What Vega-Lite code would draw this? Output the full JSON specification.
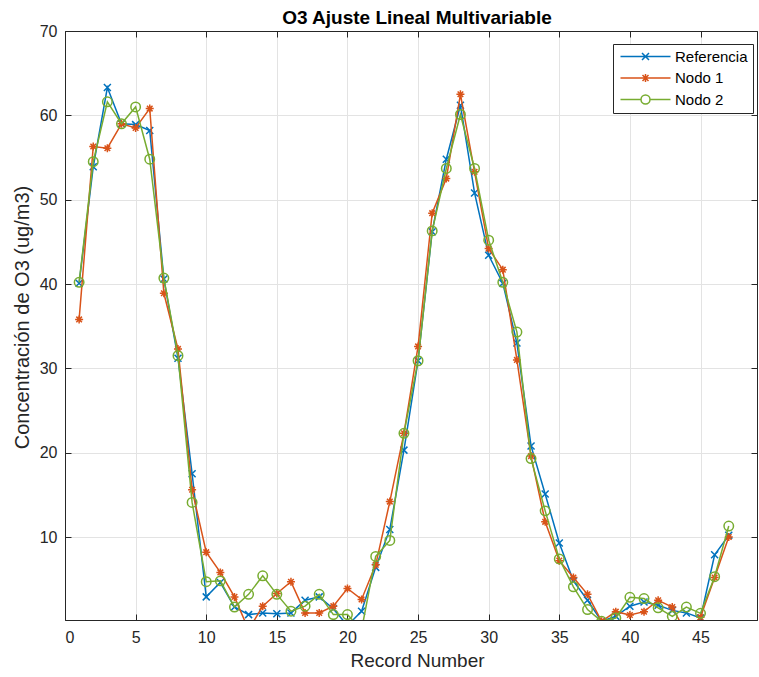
{
  "$schema": "https://vega.github.io/schema/vega-lite/v6.json",
  "width": 692,
  "height": 589,
  "autosize": "none",
  "padding": {"left": 65, "top": 31, "right": 2, "bottom": 57},
  "background": "white",
  "title": {"text": "O3 Ajuste Lineal Multivariable", "font": "Liberation Sans", "fontSize": 19, "fontWeight": "bold", "color": "#000000", "offset": -5, "anchor": "middle", "dx": 6},
  "config": {
    "font": "Liberation Sans",
    "view": {"stroke": "#262626", "strokeWidth": 1},
    "axis": {"labelFont": "Liberation Sans", "titleFont": "Liberation Sans", "labelFontSize": 16, "titleFontSize": 19, "titleFontWeight": "normal", "labelColor": "#262626", "titleColor": "#262626", "domainColor": "#262626", "tickColor": "#262626", "gridColor": "#e3e3e3", "gridWidth": 1, "tickSize": -6},
    "legend": {"title": null, "orient": "none", "legendX": 548, "legendY": 13, "labelFontSize": 15, "labelFont": "Liberation Sans", "labelColor": "#000000", "padding": 5, "strokeColor": "#262626", "fillColor": "white", "symbolSize": 100, "symbolOffset": 20, "labelOffset": 22, "rowPadding": 5.5}
  },
  "data": {"values": [
    {"x": 1, "Referencia": 40.1, "Nodo 1": 35.8, "Nodo 2": 40.2},
    {"x": 2, "Referencia": 53.9, "Nodo 1": 56.3, "Nodo 2": 54.5},
    {"x": 3, "Referencia": 63.3, "Nodo 1": 56.1, "Nodo 2": 61.6},
    {"x": 4, "Referencia": 59.0, "Nodo 1": 59.0, "Nodo 2": 59.0},
    {"x": 5, "Referencia": 58.9, "Nodo 1": 58.5, "Nodo 2": 61.0},
    {"x": 6, "Referencia": 58.2, "Nodo 1": 60.8, "Nodo 2": 54.8},
    {"x": 7, "Referencia": 40.6, "Nodo 1": 38.9, "Nodo 2": 40.7},
    {"x": 8, "Referencia": 31.2, "Nodo 1": 32.3, "Nodo 2": 31.5},
    {"x": 9, "Referencia": 17.5, "Nodo 1": 15.6, "Nodo 2": 14.1},
    {"x": 10, "Referencia": 2.9, "Nodo 1": 8.2, "Nodo 2": 4.7},
    {"x": 11, "Referencia": 4.6, "Nodo 1": 5.8, "Nodo 2": 4.8},
    {"x": 12, "Referencia": 1.7, "Nodo 1": 2.9, "Nodo 2": 1.7},
    {"x": 13, "Referencia": 0.8, "Nodo 1": -1.0, "Nodo 2": 3.2},
    {"x": 14, "Referencia": 1.0, "Nodo 1": 1.8, "Nodo 2": 5.4},
    {"x": 15, "Referencia": 0.9, "Nodo 1": 3.3, "Nodo 2": 3.2},
    {"x": 16, "Referencia": 1.0, "Nodo 1": 4.7, "Nodo 2": 1.2},
    {"x": 17, "Referencia": 2.5, "Nodo 1": 1.0, "Nodo 2": 1.8},
    {"x": 18, "Referencia": 2.9, "Nodo 1": 1.0, "Nodo 2": 3.2},
    {"x": 19, "Referencia": 1.5, "Nodo 1": 1.8, "Nodo 2": 0.8},
    {"x": 20, "Referencia": -0.5, "Nodo 1": 3.9, "Nodo 2": 0.8},
    {"x": 21, "Referencia": 1.2, "Nodo 1": 2.6, "Nodo 2": -1.0},
    {"x": 22, "Referencia": 6.4, "Nodo 1": 6.7, "Nodo 2": 7.7},
    {"x": 23, "Referencia": 10.9, "Nodo 1": 14.2, "Nodo 2": 9.6},
    {"x": 24, "Referencia": 20.3, "Nodo 1": 22.3, "Nodo 2": 22.3},
    {"x": 25, "Referencia": 30.9, "Nodo 1": 32.6, "Nodo 2": 30.9},
    {"x": 26, "Referencia": 46.2, "Nodo 1": 48.4, "Nodo 2": 46.3},
    {"x": 27, "Referencia": 54.8, "Nodo 1": 52.5, "Nodo 2": 53.7},
    {"x": 28, "Referencia": 61.2, "Nodo 1": 62.5, "Nodo 2": 60.1},
    {"x": 29, "Referencia": 50.8, "Nodo 1": 53.3, "Nodo 2": 53.7},
    {"x": 30, "Referencia": 43.4, "Nodo 1": 44.2, "Nodo 2": 45.2},
    {"x": 31, "Referencia": 40.1, "Nodo 1": 41.7, "Nodo 2": 40.2},
    {"x": 32, "Referencia": 33.0, "Nodo 1": 31.0, "Nodo 2": 34.3},
    {"x": 33, "Referencia": 20.8, "Nodo 1": 19.6, "Nodo 2": 19.3},
    {"x": 34, "Referencia": 15.1, "Nodo 1": 11.8, "Nodo 2": 13.1},
    {"x": 35, "Referencia": 9.3, "Nodo 1": 7.2, "Nodo 2": 7.4},
    {"x": 36, "Referencia": 4.8, "Nodo 1": 5.2, "Nodo 2": 4.1},
    {"x": 37, "Referencia": 2.5, "Nodo 1": 3.2, "Nodo 2": 1.4},
    {"x": 38, "Referencia": 0.0, "Nodo 1": 0.0, "Nodo 2": 0.0},
    {"x": 39, "Referencia": 0.6, "Nodo 1": 1.15, "Nodo 2": 0.4},
    {"x": 40, "Referencia": 1.8, "Nodo 1": 0.75, "Nodo 2": 2.85},
    {"x": 41, "Referencia": 2.3, "Nodo 1": 1.15, "Nodo 2": 2.7},
    {"x": 42, "Referencia": 1.9, "Nodo 1": 2.5, "Nodo 2": 1.6},
    {"x": 43, "Referencia": 1.3, "Nodo 1": 1.7, "Nodo 2": 0.6},
    {"x": 44, "Referencia": 1.0, "Nodo 1": -1.5, "Nodo 2": 1.7},
    {"x": 45, "Referencia": 0.4, "Nodo 1": 0.5, "Nodo 2": 0.95},
    {"x": 46, "Referencia": 7.9, "Nodo 1": 5.2, "Nodo 2": 5.3},
    {"x": 47, "Referencia": 10.2, "Nodo 1": 10.0, "Nodo 2": 11.3}
  ]},
  "transform": [{"fold": ["Referencia", "Nodo 1", "Nodo 2"], "as": ["serie", "valor"]}],
  "layer": [
    {
      "transform": [{"filter": "datum.serie === 'Referencia'"}],
      "mark": {"type": "line", "strokeWidth": 1.5, "clip": true},
      "encoding": {
        "x": {"field": "x", "type": "quantitative", "scale": {"domain": [0, 49], "nice": false, "zero": false}, "axis": {"values": [0, 5, 10, 15, 20, 25, 30, 35, 40, 45], "title": "Record Number", "titlePadding": 6, "labelPadding": 15, "grid": true, "titleX": 352}},
        "y": {"field": "valor", "type": "quantitative", "scale": {"domain": [0.16, 70], "nice": false, "zero": false}, "axis": {"values": [10, 20, 30, 40, 50, 60, 70], "title": "Concentración de O3 (ug/m3)", "titleFontSize": 20, "titlePadding": 7, "labelPadding": 14, "grid": true, "titleY": 286}},
        "color": {"field": "serie", "type": "nominal", "scale": {"domain": ["Referencia", "Nodo 1", "Nodo 2"], "range": ["#0072BD", "#D95319", "#77AC30"]},
          "legend": {
            "encoding": {"symbols": {
              "shape": {"value": {"signal": "datum.value === 'Referencia' ? 'M-5,0H5M-0.7,-0.7L0.7,0.7M-0.7,0.7L0.7,-0.7' : datum.value === 'Nodo 1' ? 'M-5,0H5M0,-0.8V0.8M-0.6,-0.6L0.6,0.6M-0.6,0.6L0.6,-0.6' : 'M-5,0H-0.9M0.9,0H5M0.9,0A0.9,0.9 0 1,1 -0.9,0A0.9,0.9 0 1,1 0.9,0'"}},
              "fill": {"value": "transparent"},
              "strokeWidth": {"value": 1.5},
              "opacity": {"value": 1}
            }}}
        }
      }
    },
    {
      "transform": [{"filter": "datum.serie === 'Referencia'"}],
      "mark": {"type": "point", "filled": false, "strokeWidth": 1.5, "clip": true, "opacity": 1, "shape": "M-1,-1L1,1M-1,1L1,-1", "size": 49},
      "encoding": {
        "x": {"field": "x", "type": "quantitative", "axis": {"orient": "top", "values": [0, 5, 10, 15, 20, 25, 30, 35, 40, 45], "labels": false, "title": null, "grid": false}},
        "y": {"field": "valor", "type": "quantitative", "axis": {"orient": "right", "values": [10, 20, 30, 40, 50, 60, 70], "labels": false, "title": null, "grid": false}},
        "color": {"field": "serie", "type": "nominal", "legend": null}
      }
    },
    {
      "transform": [{"filter": "datum.serie === 'Nodo 1'"}],
      "mark": {"type": "line", "strokeWidth": 1.5, "clip": true},
      "encoding": {
        "x": {"field": "x", "type": "quantitative", "axis": null},
        "y": {"field": "valor", "type": "quantitative", "axis": null},
        "color": {"field": "serie", "type": "nominal", "legend": null}
      }
    },
    {
      "transform": [{"filter": "datum.serie === 'Nodo 1'"}],
      "mark": {"type": "point", "filled": false, "strokeWidth": 1.5, "clip": true, "opacity": 1, "shape": "M-1,0H1M0,-1V1M-0.7,-0.7L0.7,0.7M-0.7,0.7L0.7,-0.7", "size": 64},
      "encoding": {
        "x": {"field": "x", "type": "quantitative", "axis": null},
        "y": {"field": "valor", "type": "quantitative", "axis": null},
        "color": {"field": "serie", "type": "nominal", "legend": null}
      }
    },
    {
      "transform": [{"filter": "datum.serie === 'Nodo 2'"}],
      "mark": {"type": "line", "strokeWidth": 1.5, "clip": true},
      "encoding": {
        "x": {"field": "x", "type": "quantitative", "axis": null},
        "y": {"field": "valor", "type": "quantitative", "axis": null},
        "color": {"field": "serie", "type": "nominal", "legend": null}
      }
    },
    {
      "transform": [{"filter": "datum.serie === 'Nodo 2'"}],
      "mark": {"type": "point", "filled": false, "strokeWidth": 1.5, "clip": true, "opacity": 1, "shape": "circle", "size": 90},
      "encoding": {
        "x": {"field": "x", "type": "quantitative", "axis": null},
        "y": {"field": "valor", "type": "quantitative", "axis": null},
        "color": {"field": "serie", "type": "nominal", "legend": null}
      }
    }
  ],
  "resolve": {"axis": {"x": "independent", "y": "independent"}}
}
